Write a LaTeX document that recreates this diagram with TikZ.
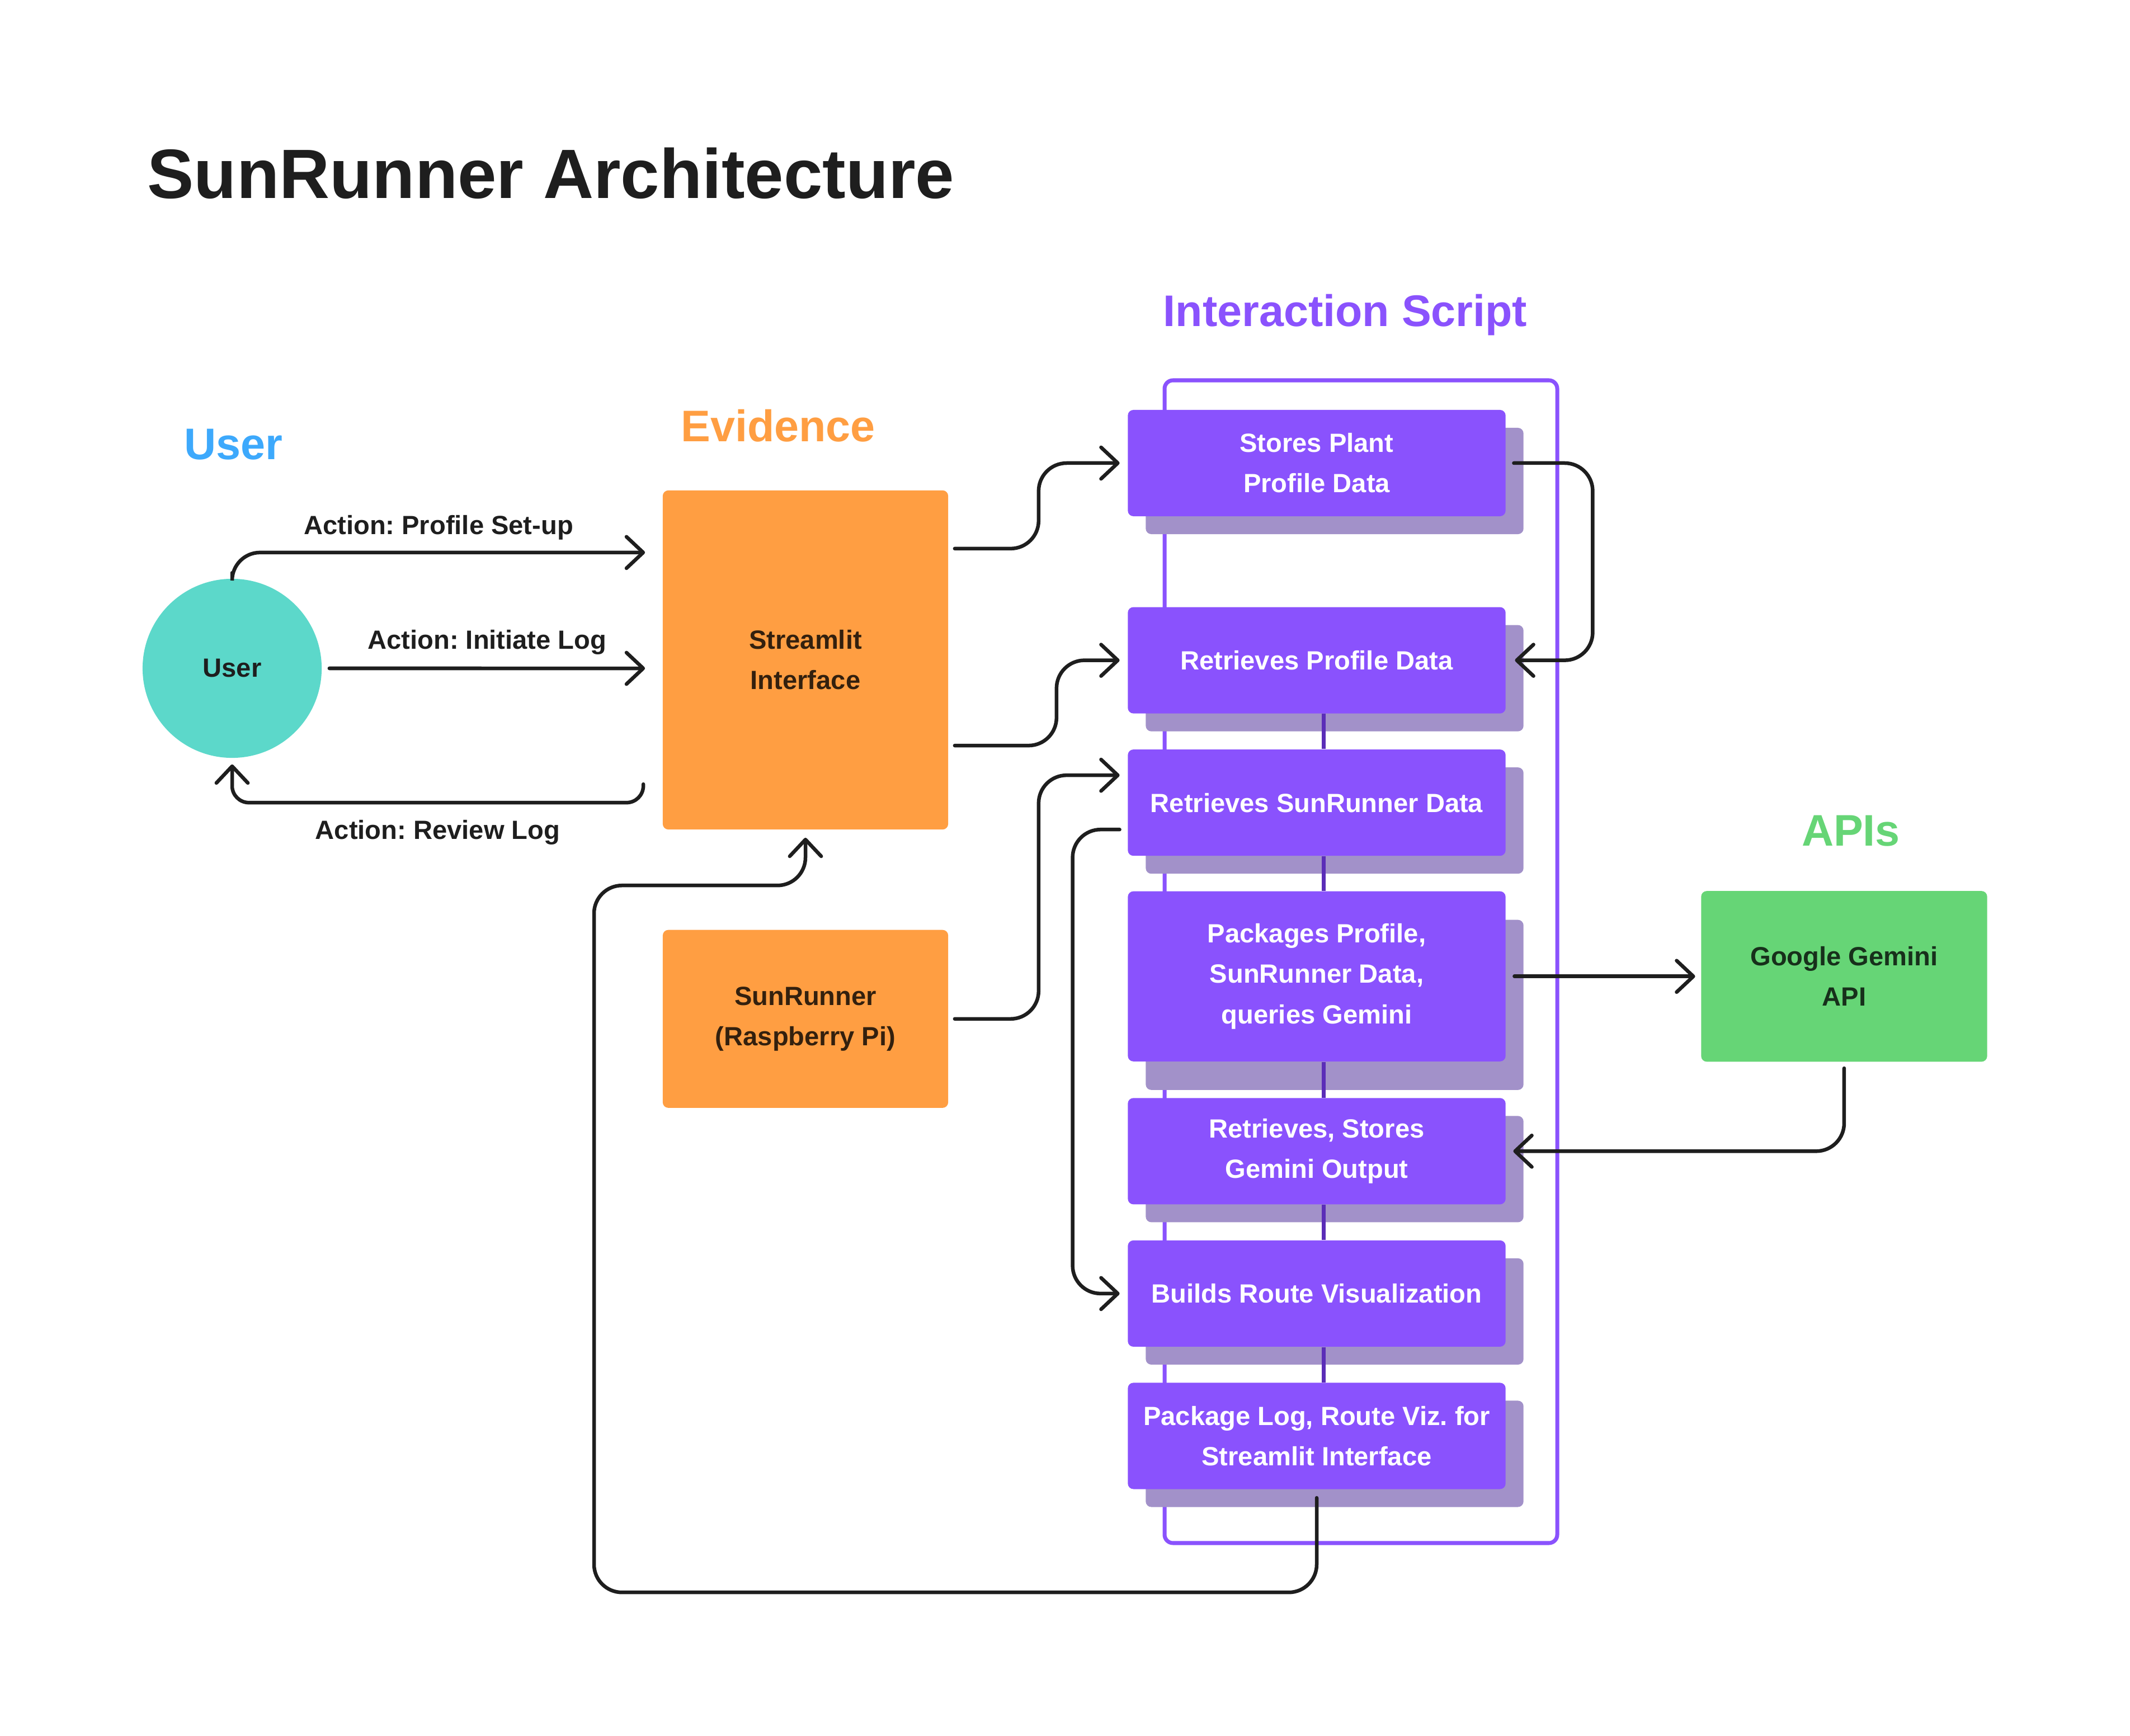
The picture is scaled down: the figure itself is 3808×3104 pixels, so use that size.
\documentclass[tikz,border=0pt]{standalone}
\usepackage{fontspec}
\setmainfont{Liberation Sans}
\usepackage{xcolor}
\usetikzlibrary{arrows.meta,positioning,shadows}
\definecolor{ink}{HTML}{1E1E1E}
\definecolor{brownink}{HTML}{33200E}
\definecolor{greenink}{HTML}{17301B}
\definecolor{scriptpurple}{HTML}{8A52FD}
\definecolor{shadepurple}{HTML}{A291C9}
\definecolor{linkpurple}{HTML}{5B2DB8}
\definecolor{evidorange}{HTML}{FF9E42}
\definecolor{apigreen}{HTML}{66D576}
\definecolor{userteal}{HTML}{5CD8CA}
\definecolor{userblue}{HTML}{3DA9FC}
\frenchspacing

\begin{document}
\begin{tikzpicture}[x=0.01cm,y=-0.01cm,
  head/.style={font=\bfseries\fontsize{22.5}{27}\selectfont,anchor=base,inner sep=0},
  lbl/.style={font=\bfseries\fontsize{13.4}{20}\selectfont,text=ink,anchor=base,inner sep=0},
  ev/.style={rectangle,rounded corners=0.1cm,fill=evidorange,text=brownink,align=center,minimum width=5.1cm,font=\bfseries\fontsize{13.4}{20.5}\selectfont},
  proc/.style={rectangle,rounded corners=0.1cm,fill=scriptpurple,text=white,align=center,minimum width=6.75cm,minimum height=1.9cm,inner sep=0,font=\bfseries\fontsize{13.4}{20.5}\selectfont,
    drop shadow={shadow xshift=0.32cm,shadow yshift=#1,fill=shadepurple,opacity=1}},
  proc/.default=-0.32cm,
  flow/.style={draw=ink,line width=1.85pt,line cap=round,rounded corners=0.5cm,-{Straight Barb[length=8.5pt,width=16pt,round]}},
  link/.style={draw=linkpurple,line width=2pt}
]
\fill[white] (0,0) rectangle (3808,3104);
\useasboundingbox (0,0) rectangle (3808,3104);

\node[font=\bfseries\fontsize{35.5}{40}\selectfont,text=ink,anchor=base west,inner sep=0] (title) at (263,355) {SunRunner Architecture};

\node[head,text=userblue] (huser) at (417,822) {User};
\node[head,text=evidorange] (hevid) at (1391,790) {Evidence};
\node[head,text=scriptpurple] (hscript) at (2405,584) {Interaction Script};
\node[head,text=apigreen] (hapi) at (3309,1512) {APIs};

\draw[scriptpurple,line width=2pt,rounded corners=0.15cm] (2082,680) rectangle (2784,2759);

\node[circle,fill=userteal,minimum size=3.2cm,text=ink,font=\bfseries\fontsize{13.4}{20}\selectfont] (user) at (415,1195) {User};
\node[ev,minimum height=6.06cm] (stream) at (1440,1180) {Streamlit\\Interface};
\node[ev,minimum height=3.18cm,below=1.78cm of stream] (sunpi) {SunRunner\\(Raspberry Pi)};

\node[proc] (store) at (2354,828) {Stores Plant\\Profile Data};
\node[proc,below=1.61cm of store] (getprof) {Retrieves Profile Data};
\node[proc,below=0.63cm of getprof] (getsun) {Retrieves SunRunner Data};
\node[proc=-0.51cm,minimum height=3.04cm,below=0.62cm of getsun] (pack) {Packages Profile,\\SunRunner Data,\\queries Gemini};
\node[proc,below=0.64cm of pack] (keep) {Retrieves, Stores\\Gemini Output};
\node[proc,below=0.63cm of keep] (route) {Builds Route Visualization};
\node[proc,below=0.63cm of route] (plog) {Package Log, Route Viz. for\\Streamlit Interface};

\node[rectangle,rounded corners=0.1cm,fill=apigreen,text=greenink,align=center,minimum width=5.11cm,minimum height=3.05cm,font=\bfseries\fontsize{13.4}{20.5}\selectfont,right=3.48cm of pack] (gemini) {Google Gemini\\API};

\foreach \a/\b in {getprof/getsun,getsun/pack,pack/keep,keep/route,route/plog}
  \draw[link] ([xshift=0.12cm]\a.south) -- ([xshift=0.12cm]\b.north);

\draw[flow] ([yshift=0.1cm]user.north) |- node[lbl,pos=0.75,yshift=0.32cm] {Action: Profile Set-up} ([xshift=-0.31cm,yshift=1.92cm]stream.west);
\draw[flow] ([xshift=0.13cm]user.east) -- node[lbl,midway,yshift=0.34cm] {Action: Initiate Log} ([xshift=-0.31cm,yshift=-0.15cm]stream.west);
\draw[flow,rounded corners=0.3cm] ([xshift=-0.34cm,yshift=-2.22cm]stream.west) -- ++(0,33) -| node[lbl,pos=0.25,yshift=-0.65cm] {Action: Review Log} ([yshift=-0.11cm]user.south);

\draw[flow] ([xshift=0.11cm,yshift=1.99cm]stream.east) -- ++(150,0) |- ([xshift=-0.14cm]store.west);
\draw[flow] ([xshift=0.11cm,yshift=-1.53cm]stream.east) -- ++(182,0) |- ([xshift=-0.14cm]getprof.west);
\draw[flow] ([xshift=0.11cm]sunpi.east) -- ++(150,0) |- ([xshift=-0.14cm,yshift=0.49cm]getsun.west);
\draw[flow] ([xshift=-0.14cm,yshift=-0.48cm]getsun.west) -- ++(-84,0) |- ([xshift=-0.14cm]route.west);
\draw[flow] ([xshift=0.14cm]store.east) -- ++(141,0) |- ([xshift=0.16cm]getprof.east);
\draw[flow] ([xshift=0.15cm]pack.east) -- ([xshift=-0.10cm]gemini.west);
\draw[flow] ([yshift=-0.11cm]gemini.south) |- ([xshift=0.13cm]keep.east);
\draw[flow] ([yshift=-0.15cm]plog.south) -- ++(0,169) -| ++(-1292,-1264) -| ([yshift=-0.14cm]stream.south);
\end{tikzpicture}
\end{document}
